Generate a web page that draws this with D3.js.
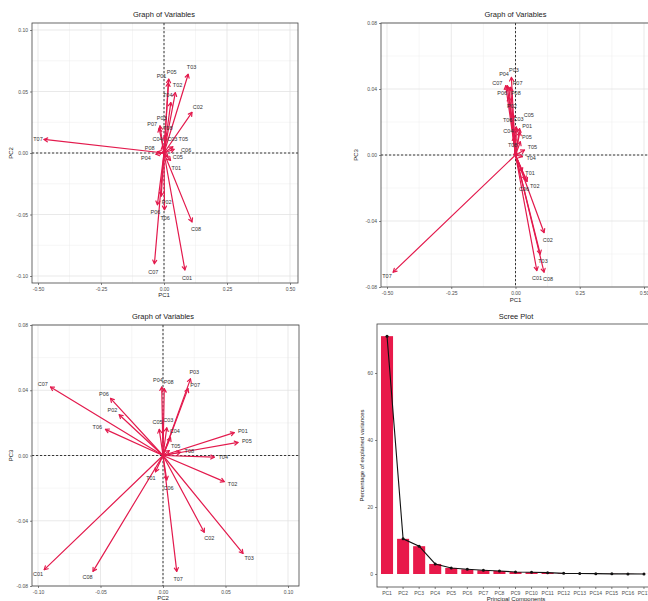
<!DOCTYPE html>
<html>
<head>
<meta charset="utf-8">
<script src="https://cdn.jsdelivr.net/npm/d3@7"></script>
<style>
  body { margin: 0; background: #fff; }
  svg { display: block; }
  text { font-family: "Liberation Sans", Arial, sans-serif; }
</style>
</head>
<body>
<svg id="chart" width="648" height="601"></svg>
<script>
// Variable loadings on the first three principal components
const variables = ["C01","C02","C03","C04","C05","C06","C07","C08",
                   "P01","P02","P03","P04","P05","P06","P07","P08",
                   "T01","T02","T03","T04","T05","T06","T07","T08"];
const pc1 = [ 0.083, 0.111, 0.003,-0.006, 0.016, 0.040,-0.038, 0.111,
              0.017,-0.011,-0.016,-0.032, 0.019,-0.026,-0.019,-0.026,
              0.026, 0.045, 0.096, 0.027, 0.035, 0.002,-0.476, 0.004];
const pc2 = [-0.095, 0.033, 0.003, 0.006,-0.003, 0.003,-0.090,-0.056,
              0.057,-0.035, 0.022,-0.001, 0.060,-0.042, 0.020, 0.001,
             -0.006, 0.049, 0.064, 0.041, 0.005,-0.046, 0.011, 0.014];
const pc3 = [-0.070,-0.047, 0.017, 0.011, 0.016,-0.015, 0.042,-0.071,
              0.014, 0.025, 0.047, 0.042, 0.008, 0.035, 0.041, 0.041,
             -0.010,-0.016,-0.060,-0.001, 0.003, 0.016,-0.071, 0.002];

// Scree plot: explained variance per component (%)
const components = ["PC1","PC2","PC3","PC4","PC5","PC6","PC7","PC8","PC9",
                    "PC10","PC11","PC12","PC13","PC14","PC15","PC16","PC17"];
const explained = [71.0, 10.5, 8.3, 3.0, 1.8, 1.4, 1.1, 0.9, 0.6,
                   0.5, 0.4, 0.2, 0.15, 0.1, 0.05, 0.03, 0.02];

// Tick values
const ticksPC1 = [-0.50, -0.25, 0.00, 0.25, 0.50];
const ticksPC2 = [-0.10, -0.05, 0.00, 0.05, 0.10];
const ticksPC3 = [-0.08, -0.04, 0.00, 0.04, 0.08];
const ticksScree = [0, 20, 40, 60];

const ARROW = "#E31A4D";
const BAR = "#E8194A";
const svg = d3.select("#chart");

function minorOf(ticks) {
  const step = ticks[1] - ticks[0];
  const out = [];
  for (let i = -1; i < ticks.length; i++) out.push(ticks[0] + step * (i + 0.5));
  return out;
}
const fmt2 = d => (Math.abs(d) < 1e-9 ? 0 : d).toFixed(2);

function styleAxis(g) {
  g.select(".domain").remove();
  g.selectAll(".tick line").attr("stroke", "#333").attr("stroke-width", 0.6);
  g.selectAll(".tick text").attr("fill", "#4D4D4D").style("font-size", "5px");
}

function frame(g, r, x, y, xTicks, yTicks, title, xTitle, yTitle, yTitleX, xTitleY, titleY) {
  // grid
  const grid = g.append("g");
  minorOf(xTicks).map(x).filter(p => p > r.x0 && p < r.x1).forEach(p =>
    grid.append("line").attr("x1", p).attr("x2", p).attr("y1", r.y0).attr("y2", r.y1)
      .attr("stroke", "#EDEDED").attr("stroke-width", 0.5));
  minorOf(yTicks).map(y).filter(p => p > r.y0 && p < r.y1).forEach(p =>
    grid.append("line").attr("y1", p).attr("y2", p).attr("x1", r.x0).attr("x2", r.x1)
      .attr("stroke", "#EDEDED").attr("stroke-width", 0.5));
  xTicks.map(x).forEach(p =>
    grid.append("line").attr("x1", p).attr("x2", p).attr("y1", r.y0).attr("y2", r.y1)
      .attr("stroke", "#DFDFDF").attr("stroke-width", 0.7));
  yTicks.map(y).forEach(p =>
    grid.append("line").attr("y1", p).attr("y2", p).attr("x1", r.x0).attr("x2", r.x1)
      .attr("stroke", "#DFDFDF").attr("stroke-width", 0.7));

  // axes
  g.append("g").attr("transform", `translate(0,${r.y1})`)
    .call(d3.axisBottom(x).tickValues(xTicks).tickFormat(fmt2).tickSize(2).tickPadding(2))
    .call(styleAxis);
  g.append("g").attr("transform", `translate(${r.x0},0)`)
    .call(d3.axisLeft(y).tickValues(yTicks).tickFormat(fmt2).tickSize(2).tickPadding(2))
    .call(styleAxis);

  g.append("text").attr("x", x(0)).attr("y", titleY)
    .attr("text-anchor", "middle").style("font-size", "7.5px").attr("fill", "#222").text(title);
  g.append("text").attr("x", x(0)).attr("y", xTitleY)
    .attr("text-anchor", "middle").style("font-size", "6px").attr("fill", "#222").text(xTitle);
  g.append("text").attr("transform", `translate(${yTitleX},${y(0)}) rotate(-90)`)
    .attr("text-anchor", "middle").style("font-size", "6px").attr("fill", "#222").text(yTitle);
}

function biplot(spec) {
  const r = spec.rect;
  const g = svg.append("g");
  const x = d3.scaleLinear().domain(spec.xDomain).range(spec.xRange);
  const y = d3.scaleLinear().domain(spec.yDomain).range(spec.yRange);
  frame(g, r, x, y, spec.xTicks, spec.yTicks, "Graph of Variables",
        spec.xTitle, spec.yTitle, spec.yTitleX, spec.xTitleY, spec.titleY);

  const ox = x(0), oy = y(0);
  // reference lines through the origin
  g.append("line").attr("x1", ox).attr("x2", ox).attr("y1", r.y0).attr("y2", r.y1)
    .attr("stroke", "#222").attr("stroke-width", 0.9).attr("stroke-dasharray", "2.2,1.8");
  g.append("line").attr("y1", oy).attr("y2", oy).attr("x1", r.x0).attr("x2", r.x1)
    .attr("stroke", "#222").attr("stroke-width", 0.9).attr("stroke-dasharray", "2.2,1.8");

  const xs = spec.xs, ys = spec.ys;
  // arrows
  const arrows = g.append("g").attr("fill", "none").attr("stroke", ARROW)
    .attr("stroke-width", 1.2).attr("stroke-linecap", "round").attr("stroke-linejoin", "round");
  xs.forEach((v, i) => {
    const tx = x(v), ty = y(ys[i]);
    const ang = Math.atan2(ty - oy, tx - ox);
    const h = 4, a = Math.PI / 6;
    const p1 = [tx - h * Math.cos(ang - a), ty - h * Math.sin(ang - a)];
    const p2 = [tx - h * Math.cos(ang + a), ty - h * Math.sin(ang + a)];
    arrows.append("path").attr("d", `M${ox},${oy}L${tx},${ty}`);
    arrows.append("path").attr("d", `M${p1[0]},${p1[1]}L${tx},${ty}L${p2[0]},${p2[1]}`);
  });

  // labels pushed away from each other and from arrow tips
  const nodes = xs.map((v, i) => {
    const tx = x(v), ty = y(ys[i]);
    const dx = tx - ox, dy = ty - oy;
    const L = Math.hypot(dx, dy) || 1;
    const ux = L > 1 ? dx / L : 0, uy = L > 1 ? dy / L : -1;
    const ax = tx + ux * 9, ay = ty + uy * 6;
    return { name: variables[i], ax, ay, x: ax, y: ay };
  });
  const tips = xs.map((v, i) => ({ fixed: true, x: x(v), y: y(ys[i]), fx: x(v), fy: y(ys[i]) }));
  const sim = d3.forceSimulation(nodes.concat(tips))
    .force("x", d3.forceX(d => d.fixed ? d.x : d.ax).strength(d => d.fixed ? 0 : 0.12))
    .force("y", d3.forceY(d => d.fixed ? d.y : d.ay).strength(d => d.fixed ? 0 : 0.12))
    .force("collide", d3.forceCollide(d => d.fixed ? 2.5 : 5.5).strength(0.9))
    .stop();
  for (let i = 0; i < 300; i++) sim.tick();

  g.append("g").selectAll("text").data(nodes).join("text")
    .attr("x", d => Math.max(r.x0 + 6, Math.min(r.x1 - 6, d.x)))
    .attr("y", d => Math.max(r.y0 + 4, Math.min(r.y1 - 4, d.y)))
    .attr("text-anchor", "middle").attr("dominant-baseline", "central")
    .style("font-size", "5.5px").attr("fill", "#333").text(d => d.name);

  g.append("rect").attr("x", r.x0).attr("y", r.y0)
    .attr("width", r.x1 - r.x0).attr("height", r.y1 - r.y0)
    .attr("fill", "none").attr("stroke", "#444").attr("stroke-width", 0.8);
}

// PC1 vs PC2
biplot({
  rect: { x0: 32, x1: 298, y0: 23, y1: 283 },
  xDomain: [-0.5, 0.5], xRange: [38, 290],
  yDomain: [-0.10, 0.10], yRange: [276, 30],
  xTicks: ticksPC1, yTicks: ticksPC2,
  xs: pc1, ys: pc2, xTitle: "PC1", yTitle: "PC2",
  yTitleX: 13, xTitleY: 297, titleY: 17
});

// PC1 vs PC3
biplot({
  rect: { x0: 381, x1: 668, y0: 23, y1: 287 },
  xDomain: [-0.5, 0.5], xRange: [387, 644],
  yDomain: [-0.08, 0.08], yRange: [287, 23],
  xTicks: ticksPC1, yTicks: ticksPC3,
  xs: pc1, ys: pc3, xTitle: "PC1", yTitle: "PC3",
  yTitleX: 358, xTitleY: 302, titleY: 17
});

// PC2 vs PC3
biplot({
  rect: { x0: 32, x1: 299, y0: 325, y1: 586 },
  xDomain: [-0.10, 0.10], xRange: [38, 288],
  yDomain: [-0.08, 0.08], yRange: [586, 325],
  xTicks: ticksPC2, yTicks: ticksPC3,
  xs: pc2, ys: pc3, xTitle: "PC2", yTitle: "PC3",
  yTitleX: 13, xTitleY: 600, titleY: 319
});

// Scree plot
(function () {
  const r = { x0: 377, x1: 668, y0: 324, y1: 587 };
  const g = svg.append("g");
  const x = d3.scaleBand().domain(components).range([379, 652])
    .paddingInner(0.25).paddingOuter(0.125);
  const y = d3.scaleLinear().domain([0, 60]).range([574, 373]);

  g.selectAll("rect.bar").data(components).join("rect").attr("class", "bar")
    .attr("x", d => x(d)).attr("width", x.bandwidth())
    .attr("y", (d, i) => y(explained[i]))
    .attr("height", (d, i) => y(0) - y(explained[i]))
    .attr("fill", BAR);

  const line = d3.line().x(d => x(d) + x.bandwidth() / 2).y((d, i) => y(explained[i]));
  g.append("path").datum(components).attr("d", line)
    .attr("fill", "none").attr("stroke", "#111").attr("stroke-width", 1.1);
  g.selectAll("circle").data(components).join("circle")
    .attr("cx", d => x(d) + x.bandwidth() / 2).attr("cy", (d, i) => y(explained[i]))
    .attr("r", 1.5).attr("fill", "#111");

  g.append("g").attr("transform", `translate(0,${r.y1})`)
    .call(d3.axisBottom(x).tickSize(2).tickPadding(2)).call(styleAxis);
  g.append("g").attr("transform", `translate(${r.x0},0)`)
    .call(d3.axisLeft(y).tickValues(ticksScree).tickFormat(d3.format("d")).tickSize(2).tickPadding(2))
    .call(styleAxis);

  g.append("rect").attr("x", r.x0).attr("y", r.y0)
    .attr("width", r.x1 - r.x0).attr("height", r.y1 - r.y0)
    .attr("fill", "none").attr("stroke", "#444").attr("stroke-width", 0.8);

  g.append("text").attr("x", 516).attr("y", 319).attr("text-anchor", "middle")
    .style("font-size", "7.5px").attr("fill", "#222").text("Scree Plot");
  g.append("text").attr("x", 516).attr("y", 601).attr("text-anchor", "middle")
    .style("font-size", "6px").attr("fill", "#222").text("Principal Components");
  g.append("text").attr("transform", `translate(364,${(r.y0 + r.y1) / 2}) rotate(-90)`)
    .attr("text-anchor", "middle").style("font-size", "6px").attr("fill", "#222")
    .text("Percentage of explained variances");
})();
</script>
</body>
</html>
